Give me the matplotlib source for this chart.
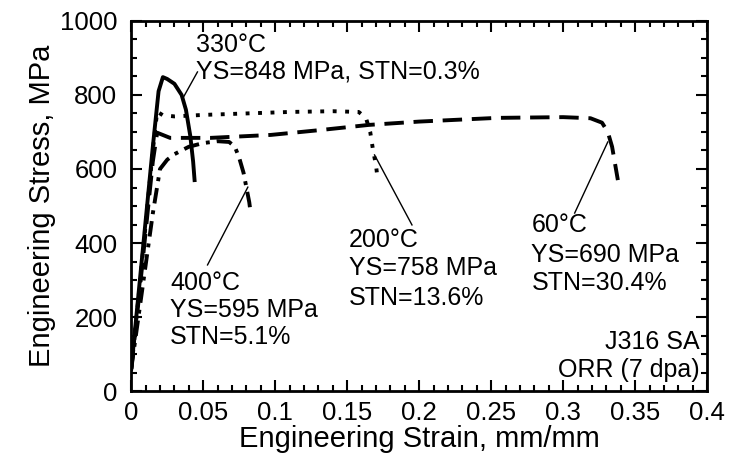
import numpy as np
import matplotlib.pyplot as plt
from matplotlib.ticker import MultipleLocator

plt.rcParams['font.family'] = ['Liberation Sans', 'DejaVu Sans']

# 330 C
x330 = [0, 0.005, 0.010, 0.015, 0.019, 0.022, 0.025, 0.030, 0.035, 0.038, 0.041, 0.043, 0.044]
y330 = [60, 260, 460, 660, 810, 848, 843, 830, 800, 760, 690, 620, 570]
# 200 C
x200 = [0, 0.005, 0.010, 0.015, 0.018, 0.022, 0.03, 0.05, 0.08, 0.11, 0.14, 0.158, 0.163, 0.166, 0.168, 0.170, 0.171]
y200 = [60, 250, 450, 650, 755, 745, 742, 746, 750, 754, 756, 754, 738, 700, 650, 610, 578]
# 60 C
x60 = [0, 0.005, 0.010, 0.015, 0.018, 0.027, 0.055, 0.097, 0.131, 0.165, 0.2, 0.254, 0.3, 0.319, 0.327, 0.331, 0.334, 0.336, 0.338]
y60 = [60, 240, 430, 620, 698, 684, 684, 692, 705, 719, 728, 738, 740, 737, 725, 700, 660, 615, 570]
# 400 C
x400 = [0, 0.005, 0.010, 0.015, 0.020, 0.025, 0.03, 0.04, 0.05, 0.06, 0.068, 0.072, 0.075, 0.078, 0.080, 0.082, 0.083]
y400 = [60, 200, 340, 480, 600, 625, 640, 660, 670, 675, 673, 660, 630, 590, 550, 510, 480]

fig = plt.figure(figsize=(7.29, 4.63), dpi=100)
ax = fig.add_axes([0.18, 0.155, 0.79, 0.8])

lw = 2.8
ax.plot(x330, y330, color='black', lw=lw, ls='-')
ax.plot(x200, y200, color='black', lw=lw, ls=(0, (1, 2.2)))
ax.plot(x60, y60, color='black', lw=lw, ls=(0, (5, 2.5)))
ax.plot(x400, y400, color='black', lw=lw, ls=(0, (4, 1.8, 1, 1.8)))

# leader lines
ax.plot([0.046, 0.036], [862, 792], color='black', lw=1)
ax.plot([0.053, 0.081], [341, 551], color='black', lw=1)
ax.plot([0.169, 0.195], [638, 449], color='black', lw=1)
ax.plot([0.331, 0.308], [673, 481], color='black', lw=1)

fs = 18
ax.text(0.045, 935, '330°C', fontsize=fs, va='center')
ax.text(0.045, 862, 'YS=848 MPa, STN=0.3%', fontsize=fs, va='center')
ax.text(0.027, 292, '400°C', fontsize=fs, va='center')
ax.text(0.027, 219, 'YS=595 MPa', fontsize=fs, va='center')
ax.text(0.027, 146, 'STN=5.1%', fontsize=fs, va='center')
ax.text(0.151, 408, '200°C', fontsize=fs, va='center')
ax.text(0.151, 332, 'YS=758 MPa', fontsize=fs, va='center')
ax.text(0.151, 251, 'STN=13.6%', fontsize=fs, va='center')
ax.text(0.278, 449, '60°C', fontsize=fs, va='center')
ax.text(0.278, 368, 'YS=690 MPa', fontsize=fs, va='center')
ax.text(0.278, 292, 'STN=30.4%', fontsize=fs, va='center')
ax.text(0.395, 132, 'J316 SA', fontsize=fs, va='center', ha='right')
ax.text(0.395, 57, 'ORR (7 dpa)', fontsize=fs, va='center', ha='right')

ax.set_xlim(0, 0.4)
ax.set_ylim(0, 1000)
ax.xaxis.set_minor_locator(MultipleLocator(0.01))
ax.yaxis.set_major_locator(MultipleLocator(200))
ax.yaxis.set_minor_locator(MultipleLocator(50))
ax.set_xticks([0, 0.05, 0.1, 0.15, 0.2, 0.25, 0.3, 0.35, 0.4])
ax.set_xticklabels(['0', '0.05', '0.1', '0.15', '0.2', '0.25', '0.3', '0.35', '0.4'])

ax.tick_params(which='both', direction='in', top=True, right=True, labelsize=18.5, width=1.5)
ax.tick_params(which='major', length=8)
ax.tick_params(which='minor', length=4)
ax.tick_params(axis='y', pad=10)
ax.tick_params(axis='x', pad=7)
for s in ax.spines.values():
    s.set_linewidth(2)

ax.set_xlabel('Engineering Strain, mm/mm', fontsize=21, labelpad=0)
ax.set_ylabel('Engineering Stress, MPa', fontsize=21, labelpad=3)

fig.savefig('out.png', dpi=100)
